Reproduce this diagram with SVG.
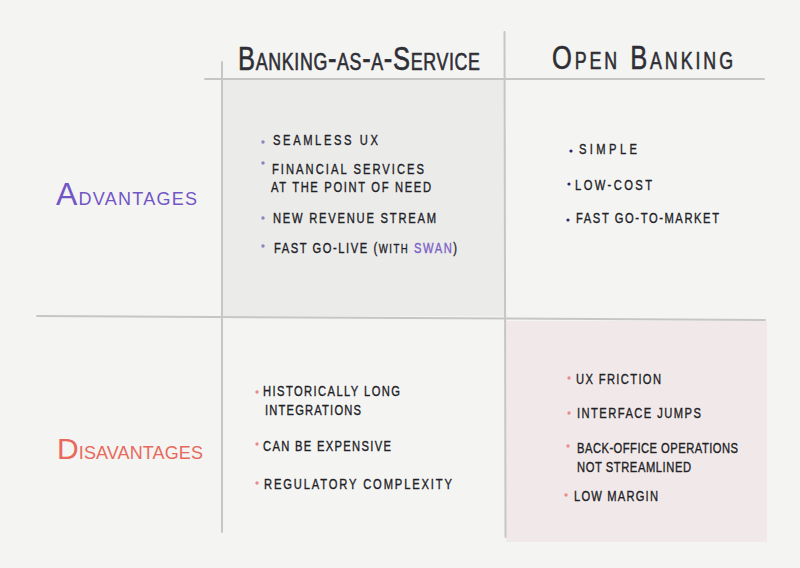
<svg xmlns="http://www.w3.org/2000/svg" width="800" height="568" viewBox="0 0 800 568">
<style>
.hdr{font-family:"Liberation Sans",Arial,sans-serif;font-size:34px;fill:#2e2e34;stroke:#2e2e34;stroke-width:0.6;font-variant:small-caps}
.row{font-family:"Liberation Sans",Arial,sans-serif;font-variant:small-caps}
.item{font-family:"Liberation Sans",Arial,sans-serif;font-size:14px;fill:#222226;stroke:#222226;stroke-width:0.35}
.grid{stroke:#c6c6c6;stroke-width:2;fill:none;stroke-linecap:round}
.dotA{fill:#8c82c4}
.dotB{fill:#2b2672}
.dotC{fill:#e98c8a}
</style>
<rect width="800" height="568" fill="#f4f4f3"/>
<g id="cell-baas-adv">
<rect x="223" y="80" width="281" height="236" fill="#ebebea"/>
<circle class="dotA" cx="263" cy="142" r="1.7"/>
<circle class="dotA" cx="263" cy="163" r="1.7"/>
<circle class="dotA" cx="263" cy="218" r="1.7"/>
<circle class="dotA" cx="263" cy="246" r="1.7"/>
<g transform="scale(0.8 1)">
<text class="item" x="341.25" y="145" textLength="131.25" lengthAdjust="spacing">SEAMLESS UX</text>
<text class="item" x="340" y="174" textLength="190" lengthAdjust="spacing">FINANCIAL SERVICES</text>
<text class="item" x="338.75" y="192" textLength="200" lengthAdjust="spacing">AT THE POINT OF NEED</text>
<text class="item" x="341.25" y="223" textLength="203.75" lengthAdjust="spacing">NEW REVENUE STREAM</text>
<text class="item" x="342.5" y="253" textLength="228.75" lengthAdjust="spacing">FAST GO-LIVE (<tspan font-size="12">WITH</tspan> <tspan fill="#7c62c6" stroke="#7c62c6">SWAN</tspan>)</text>
</g>
</g>
<g id="cell-ob-adv">
<circle class="dotB" cx="571" cy="151" r="1.6"/>
<circle class="dotB" cx="569" cy="184" r="1.6"/>
<circle class="dotB" cx="568" cy="220" r="1.6"/>
<g transform="scale(0.8 1)">
<text class="item" x="723.75" y="154" textLength="72.5" lengthAdjust="spacing">SIMPLE</text>
<text class="item" x="718.75" y="190" textLength="96.25" lengthAdjust="spacing">LOW-COST</text>
<text class="item" x="720" y="223" textLength="178.75" lengthAdjust="spacing">FAST GO-TO-MARKET</text>
</g>
</g>
<g id="cell-baas-dis">
<circle class="dotC" cx="257" cy="392" r="1.7"/>
<circle class="dotC" cx="257" cy="444" r="1.7"/>
<circle class="dotC" cx="257" cy="483" r="1.7"/>
<g transform="scale(0.8 1)">
<text class="item" x="328.75" y="396" textLength="171.25" lengthAdjust="spacing">HISTORICALLY LONG</text>
<text class="item" x="331.25" y="415" textLength="120" lengthAdjust="spacing">INTEGRATIONS</text>
<text class="item" x="328.75" y="451" textLength="160" lengthAdjust="spacing">CAN BE EXPENSIVE</text>
<text class="item" x="330" y="489" textLength="235" lengthAdjust="spacing">REGULATORY COMPLEXITY</text>
</g>
</g>
<g id="cell-ob-dis">
<rect x="506" y="321" width="261" height="221" fill="#f1e9e9"/>
<circle class="dotC" cx="569" cy="378" r="1.7"/>
<circle class="dotC" cx="569" cy="413" r="1.7"/>
<circle class="dotC" cx="568" cy="446" r="1.7"/>
<circle class="dotC" cx="566" cy="495" r="1.7"/>
<g transform="scale(0.8 1)">
<text class="item" x="720" y="384" textLength="106.25" lengthAdjust="spacing">UX FRICTION</text>
<text class="item" x="721.25" y="418" textLength="155" lengthAdjust="spacing">INTERFACE JUMPS</text>
<text class="item" x="721.25" y="453" textLength="201.25" lengthAdjust="spacing">BACK-OFFICE OPERATIONS</text>
<text class="item" x="721.25" y="472" textLength="142.5" lengthAdjust="spacing">NOT STREAMLINED</text>
<text class="item" x="717.5" y="501" textLength="105" lengthAdjust="spacing">LOW MARGIN</text>
</g>
</g>
<g id="lines">
<line class="grid" x1="205" y1="79" x2="764" y2="79"/>
<line class="grid" x1="222" y1="62" x2="222" y2="532"/>
<line class="grid" x1="504.5" y1="32" x2="505.5" y2="537"/>
<line class="grid" x1="37" y1="316" x2="765" y2="320"/>
</g>
<g id="header-baas">
<text class="hdr" transform="scale(0.75 1)" x="317.33" y="70" textLength="322.67" lengthAdjust="spacing">Banking-as-a-Service</text>
</g>
<g id="header-ob">
<text class="hdr" transform="scale(0.75 1)" x="736" y="69" textLength="241.33" lengthAdjust="spacing">Open Banking</text>
</g>
<g id="row-adv">
<text class="row" x="56" y="205" fill="#7356c6" textLength="141" lengthAdjust="spacing"><tspan font-size="32">A</tspan><tspan font-size="26">dvantages</tspan></text>
</g>
<g id="row-dis">
<text class="row" x="57" y="459" fill="#e8695c" textLength="146" lengthAdjust="spacing"><tspan font-size="30">D</tspan><tspan font-size="26">isavantages</tspan></text>
</g>
</svg>
